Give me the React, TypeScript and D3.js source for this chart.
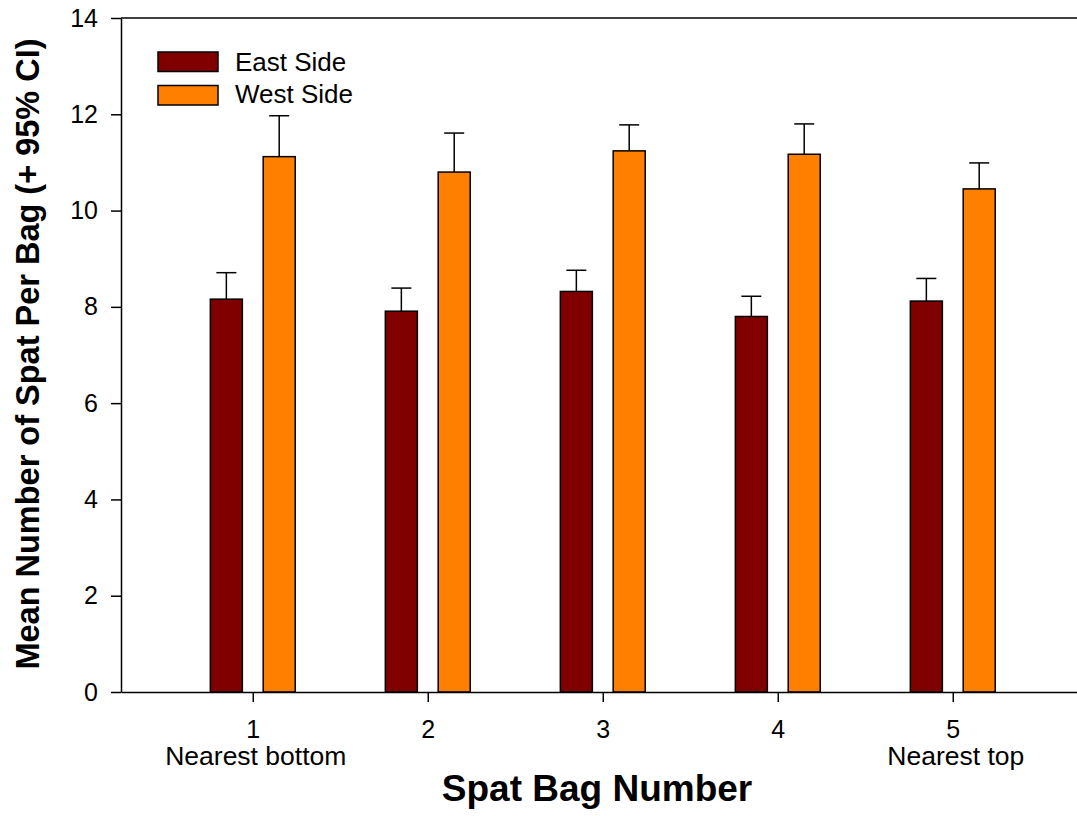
import React, { useEffect, useRef } from 'react';
import * as d3 from 'd3';

const bags = [1, 2, 3, 4, 5];
const bagNotes = ['Nearest bottom', '', '', '', 'Nearest top'];
const eastMeans = [8.16, 7.91, 8.32, 7.8, 8.12];
const eastUpper = [8.71, 8.39, 8.76, 8.22, 8.59];
const westMeans = [11.12, 10.8, 11.24, 11.17, 10.45];
const westUpper = [11.97, 11.61, 11.78, 11.8, 10.99];
const yTicks = [0, 2, 4, 6, 8, 10, 12, 14];
const seriesNames = ['East Side', 'West Side'];
const seriesColors = ['#800000', '#ff8000'];

function App() {
  const chart = useRef<any>(null);
  const dims = { width: 1077, height: 816 };
  const m = { left: 121, top: 18, bottom: 692 };

  useEffect(() => {
    const svg = d3.select(chart.current);
    svg.selectAll('*').remove();
    const font = 'Arial, "Liberation Sans", sans-serif';

    const x = d3.scaleLinear().domain([0.247, 6]).range([m.left, m.left + 175 * 5.753]);
    const y = d3.scaleLinear().domain([0, 14]).range([m.bottom, m.top]);
    const barW = x(0.183) - x(0);
    const off = x(0.151) - x(0);
    const capW = 20;

    // frame: top line
    svg.append('line').attr('x1', m.left).attr('x2', dims.width).attr('y1', m.top).attr('y2', m.top)
      .attr('stroke', '#000').attr('stroke-width', 1.5);

    const series = [
      { means: eastMeans, upper: eastUpper, dx: -off, color: seriesColors[0] },
      { means: westMeans, upper: westUpper, dx: off, color: seriesColors[1] },
    ];

    series.forEach((s) => {
      const g = svg.append('g');
      bags.forEach((b, i) => {
        const cx = x(b) + s.dx;
        // upper error bar only
        g.append('line').attr('x1', cx).attr('x2', cx).attr('y1', y(s.means[i])).attr('y2', y(s.upper[i]))
          .attr('stroke', '#000').attr('stroke-width', 1.5);
        g.append('line').attr('x1', cx - capW / 2).attr('x2', cx + capW / 2)
          .attr('y1', y(s.upper[i])).attr('y2', y(s.upper[i]))
          .attr('stroke', '#000').attr('stroke-width', 1.5);
        g.append('rect').attr('x', cx - barW / 2).attr('y', y(s.means[i]))
          .attr('width', barW).attr('height', y(0) - y(s.means[i]))
          .attr('fill', s.color).attr('stroke', '#000').attr('stroke-width', 1.5);
      });
    });

    // y axis
    const yAxis = svg.append('g').attr('transform', `translate(${m.left},0)`)
      .call(d3.axisLeft(y).tickValues(yTicks).tickSize(10).tickPadding(13).tickSizeOuter(0));
    yAxis.select('.domain').attr('stroke-width', 1.5);
    yAxis.selectAll('line').attr('stroke-width', 1.5);
    yAxis.selectAll('text').attr('font-size', 25).attr('font-family', font).attr('fill', '#000');

    // x axis
    const xAxis = svg.append('g').attr('transform', `translate(0,${m.bottom})`)
      .call(d3.axisBottom(x).tickValues(bags).tickFormat(d3.format('d')).tickSize(10).tickPadding(18).tickSizeOuter(0));
    xAxis.select('.domain').attr('stroke-width', 1.5);
    xAxis.selectAll('line').attr('stroke-width', 1.5);
    xAxis.selectAll('text').attr('font-size', 25).attr('font-family', font).attr('fill', '#000');

    svg.append('g').selectAll('text').data(bags).join('text')
      .attr('x', (d) => x(d) + 3).attr('y', 765)
      .attr('text-anchor', 'middle').attr('font-size', 26.5).attr('font-family', font)
      .text((d, i) => bagNotes[i]);

    // titles
    svg.append('text').attr('x', 597).attr('y', 801).attr('text-anchor', 'middle')
      .attr('font-size', 37).attr('font-weight', 'bold').attr('font-family', font)
      .text('Spat Bag Number');
    svg.append('text').attr('transform', 'translate(39,354) rotate(-90)').attr('text-anchor', 'middle')
      .attr('font-size', 32.5).attr('font-weight', 'bold').attr('font-family', font)
      .text('Mean Number of Spat Per Bag (+ 95% CI)');

    // legend
    const leg = svg.append('g');
    seriesNames.forEach((name, i) => {
      leg.append('rect').attr('x', 158).attr('y', 52 + i * 33.5).attr('width', 60).attr('height', 19.5)
        .attr('fill', seriesColors[i]).attr('stroke', '#000').attr('stroke-width', 1.5);
      leg.append('text').attr('x', 235).attr('y', 70.7 + i * 32.5).attr('font-size', 26).attr('font-family', font)
        .text(name);
    });
  });

  return (
    <div id="chartArea" style={{ position: 'absolute', left: 0, top: 0 }}>
      <svg ref={chart} width={dims.width} height={dims.height} style={{ display: 'block', background: '#fff' }}></svg>
    </div>
  );
}

export default App;
